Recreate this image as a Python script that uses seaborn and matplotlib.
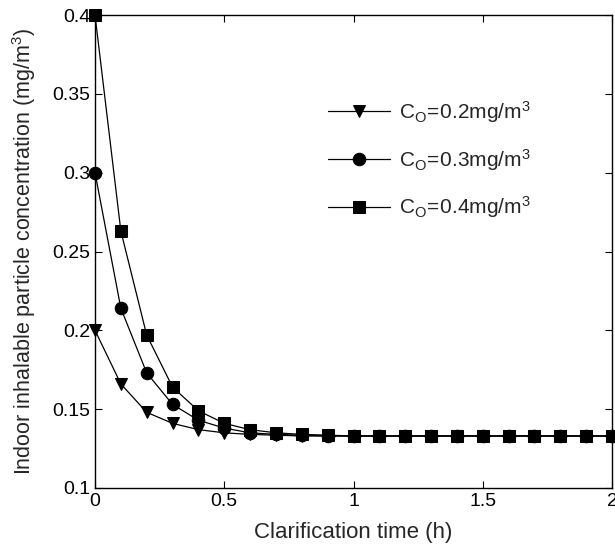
import matplotlib
matplotlib.use('Agg')
import matplotlib.pyplot as plt
import pandas as pd
import seaborn as sns

# Data
time_h = [0.0, 0.1, 0.2, 0.3, 0.4, 0.5, 0.6, 0.7, 0.8, 0.9, 1.0,
          1.1, 1.2, 1.3, 1.4, 1.5, 1.6, 1.7, 1.8, 1.9, 2.0]
c_02 = [0.200, 0.166, 0.148, 0.141, 0.137, 0.135, 0.134, 0.1335, 0.133, 0.133, 0.133,
        0.133, 0.133, 0.133, 0.133, 0.133, 0.133, 0.133, 0.133, 0.133, 0.133]
c_03 = [0.300, 0.214, 0.173, 0.153, 0.143, 0.138, 0.135, 0.134, 0.1335, 0.133, 0.133,
        0.133, 0.133, 0.133, 0.133, 0.133, 0.133, 0.133, 0.133, 0.133, 0.133]
c_04 = [0.400, 0.263, 0.197, 0.164, 0.149, 0.141, 0.137, 0.135, 0.134, 0.1335, 0.133,
        0.133, 0.133, 0.133, 0.133, 0.133, 0.133, 0.133, 0.133, 0.133, 0.133]
labels = [r'$\mathregular{C_O\!=\!0.2mg/m^3}$',
          r'$\mathregular{C_O\!=\!0.3mg/m^3}$',
          r'$\mathregular{C_O\!=\!0.4mg/m^3}$']
markers = ['v', 'o', 's']

sns.set_style('ticks')
plt.rcParams['font.family'] = ['Liberation Sans', 'DejaVu Sans']
plt.rcParams['mathtext.fontset'] = 'custom'
plt.rcParams['mathtext.rm'] = 'Liberation Sans'

fig = plt.figure(figsize=(6.15, 5.5), dpi=100)
ax = fig.add_axes([95 / 615, 1 - 488 / 550, 517 / 615, 473 / 550])

for vals, lab, mk in zip([c_02, c_03, c_04], labels, markers):
    df = pd.DataFrame({'t': time_h, 'c': vals})
    sns.lineplot(data=df, x='t', y='c', ax=ax, color='black', linewidth=0.9,
                 marker=mk, markersize=9, markeredgecolor='black', label=lab,
                 clip_on=False, zorder=3)

ax.set_xlim(0, 2)
ax.set_ylim(0.1, 0.4)
ax.set_xticks([0, 0.5, 1, 1.5, 2])
ax.set_xticklabels(['0', '0.5', '1', '1.5', '2'])
ax.set_yticks([0.1, 0.15, 0.2, 0.25, 0.3, 0.35, 0.4])
ax.set_yticklabels(['0.1', '0.15', '0.2', '0.25', '0.3', '0.35', '0.4'])
ax.tick_params(direction='in', top=True, right=True, length=5, width=0.8,
               labelsize=14, colors='black')
for s in ax.spines.values():
    s.set_visible(True)
    s.set_linewidth(1.0)
    s.set_color('black')

ax.set_xlabel('Clarification time (h)', fontsize=16, labelpad=9)
ax.set_ylabel(r'Indoor inhalable particle concentration (mg/m$\mathregular{^3}$)',
              fontsize=15.5, labelpad=10)

ax.legend(loc='upper left', bbox_to_anchor=(0.414, 0.862), frameon=False,
          fontsize=15, handlelength=3.0, labelspacing=1.05, handletextpad=0.4)

fig.savefig('out.png', dpi=100)
